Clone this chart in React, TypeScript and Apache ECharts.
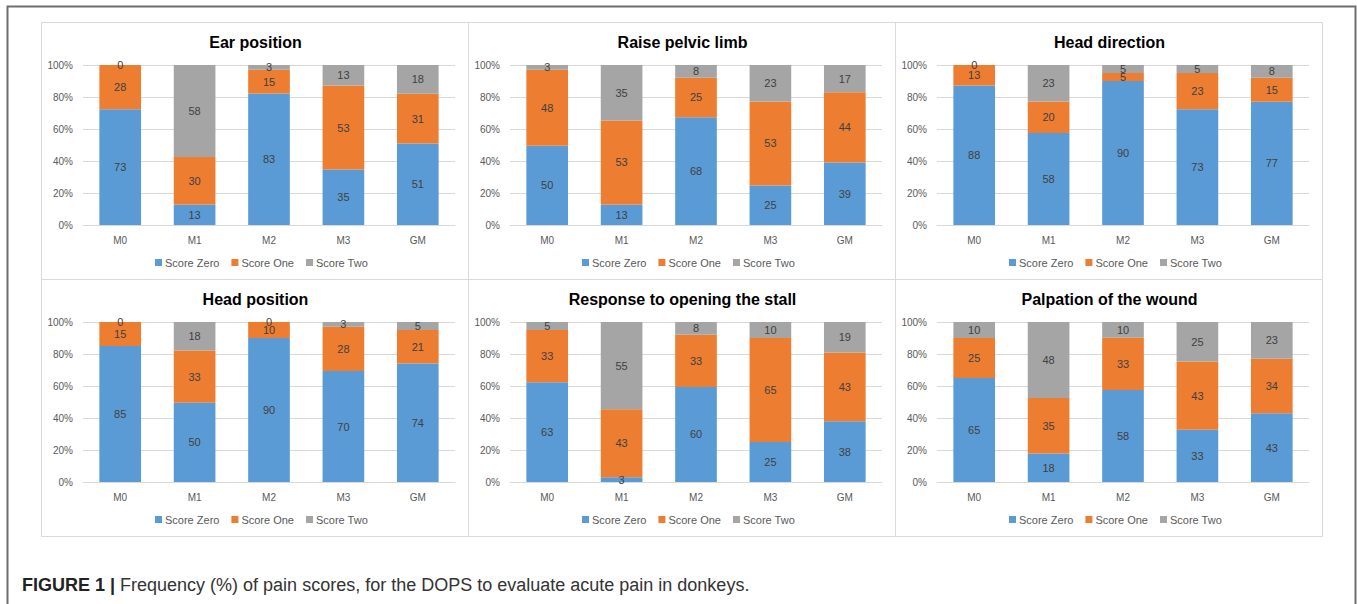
import React, { useEffect, useRef } from "react";
import * as echarts from "echarts";

const categories = ["M0", "M1", "M2", "M3", "GM"];
const seriesNames = ["Score Zero", "Score One", "Score Two"];
const colors = ["#5B9BD5", "#ED7D31", "#A5A5A5"];
const yTicks = [0, 20, 40, 60, 80, 100];

const panelTitles = [
  "Ear position",
  "Raise pelvic limb",
  "Head direction",
  "Head position",
  "Response to opening the stall",
  "Palpation of the wound",
];

// [Score Zero, Score One, Score Two] per panel
const earPosition = [
  [73, 13, 83, 35, 51],
  [28, 30, 15, 53, 31],
  [0, 58, 3, 13, 18],
];
const raisePelvicLimb = [
  [50, 13, 68, 25, 39],
  [48, 53, 25, 53, 44],
  [3, 35, 8, 23, 17],
];
const headDirection = [
  [88, 58, 90, 73, 77],
  [13, 20, 5, 23, 15],
  [0, 23, 5, 5, 8],
];
const headPosition = [
  [85, 50, 90, 70, 74],
  [15, 33, 10, 28, 21],
  [0, 18, 0, 3, 5],
];
const responseStall = [
  [63, 3, 60, 25, 38],
  [33, 43, 33, 65, 43],
  [5, 55, 8, 10, 19],
];
const palpationWound = [
  [65, 18, 58, 33, 43],
  [25, 35, 33, 43, 34],
  [10, 48, 10, 25, 23],
];

const panelData = [earPosition, raisePelvicLimb, headDirection, headPosition, responseStall, palpationWound];

const captionBold = "FIGURE 1 | ";
const captionText = "Frequency (%) of pain scores, for the DOPS to evaluate acute pain in donkeys.";

const FONT = "'Liberation Sans', Arial, Helvetica, sans-serif";

export default function App() {
  const ref = useRef<HTMLDivElement>(null);

  useEffect(() => {
    document.body.style.margin = "0";
    const chart = echarts.init(ref.current!, null, { renderer: "svg" });

    const panelX = [41, 468, 895];
    const panelY = [22, 279];
    const panelW = 427;
    const panelH = 257;

    const grids: any[] = [];
    const xAxes: any[] = [];
    const yAxes: any[] = [];
    const series: any[] = [];
    const legends: any[] = [];
    const graphics: any[] = [];

    panelData.forEach((data, p) => {
      const col = p % 3;
      const row = Math.floor(p / 3);
      const px = panelX[col];
      const py = panelY[row];

      graphics.push({
        type: "rect",
        shape: { x: px + 0.5, y: py + 0.5, width: panelW, height: panelH },
        style: { fill: "none", stroke: "#d9d9d9", lineWidth: 1 },
        z: 0,
      });
      graphics.push({
        type: "text",
        x: px + panelW / 2 + 1,
        y: py + 20,
        style: {
          text: panelTitles[p],
          font: `bold 16px ${FONT}`,
          fill: "#000000",
          textAlign: "center",
          textVerticalAlign: "middle",
        },
      });

      grids.push({
        left: px + 42,
        top: py + 43,
        width: 372,
        height: 160,
        containLabel: false,
      });
      xAxes.push({
        type: "category",
        gridIndex: p,
        data: categories,
        axisLine: { lineStyle: { color: "#d9d9d9", width: 1 } },
        axisTick: { show: false },
        axisLabel: { color: "#595959", fontSize: 10, fontFamily: FONT, margin: 10 },
      });
      yAxes.push({
        type: "value",
        gridIndex: p,
        min: yTicks[0],
        max: yTicks[yTicks.length - 1],
        interval: yTicks[1] - yTicks[0],
        axisLine: { show: false },
        axisTick: { show: false },
        splitLine: { lineStyle: { color: "#d9d9d9", width: 1 } },
        axisLabel: { color: "#595959", fontSize: 10, fontFamily: FONT, margin: 10, formatter: "{value}%" },
      });

      const totals = categories.map((_, i) => data.reduce((s, arr) => s + arr[i], 0));
      data.forEach((vals, s) => {
        series.push({
          type: "bar",
          name: seriesNames[s],
          xAxisIndex: p,
          yAxisIndex: p,
          stack: "panel" + p,
          barWidth: "56%",
          itemStyle: { color: colors[s] },
          label: {
            show: true,
            position: "inside",
            color: "#404040",
            fontSize: 11,
            fontFamily: FONT,
            formatter: (params: any) => String(vals[params.dataIndex]),
          },
          data: vals.map((v, i) => (v / totals[i]) * 100),
        });
      });

      legends.push({
        data: seriesNames,
        left: px + 114,
        top: py + 235,
        itemWidth: 7,
        itemHeight: 7,
        itemGap: 12,
        icon: "rect",
        padding: 0,
        textStyle: { color: "#595959", fontSize: 11, fontFamily: FONT, padding: [0, 0, 0, -2] },
        selectedMode: false,
      });
    });

    // outer frame
    graphics.push({
      type: "polyline",
      shape: { points: [[7.5, 604], [7.5, 6.5], [1355.5, 6.5], [1355.5, 604]] },
      style: { fill: "none", stroke: "#6e6e6e", lineWidth: 2 },
    });

    // caption
    graphics.push({
      type: "text",
      x: 22,
      y: 585,
      style: {
        text: `{b|${captionBold}}{n|${captionText}}`,
        textVerticalAlign: "middle",
        rich: {
          b: { font: `bold 18px ${FONT}`, fill: "#222222" },
          n: { font: `18px ${FONT}`, fill: "#333333" },
        },
      },
    });

    chart.setOption({
      animation: false,
      backgroundColor: "#ffffff",
      textStyle: { fontFamily: FONT },
      grid: grids,
      xAxis: xAxes,
      yAxis: yAxes,
      legend: legends,
      series,
      graphic: graphics,
    });

    return () => chart.dispose();
  }, []);

  return <div ref={ref} style={{ width: 1357, height: 604 }} />;
}
